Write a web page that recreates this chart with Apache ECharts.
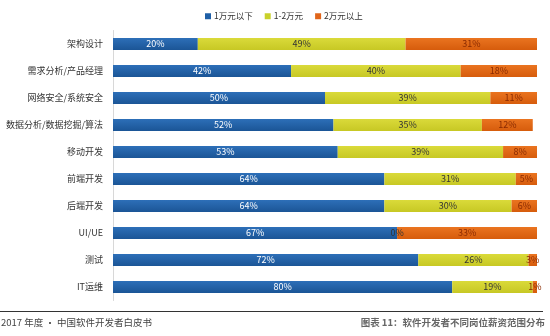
<!DOCTYPE html>
<html><head><meta charset="utf-8">
<script src="https://cdn.jsdelivr.net/npm/echarts@6/dist/echarts.min.js"></script>
<style>html,body{margin:0;padding:0;background:#fff}#c{width:550px;height:336px}</style>
</head><body><div id="c"></div>
<script>
var categories = ['架构设计','需求分析/产品经理','网络安全/系统安全','数据分析/数据挖掘/算法','移动开发','前端开发','后端开发','UI/UE','测试','IT运维'];
var seriesNames = ['1万元以下','1-2万元','2万元以上'];
var below1 = [20,42,50,52,53,64,64,67,72,80];
var between12 = [49,40,39,35,39,31,30,0,26,19];
var above2 = [31,18,11,12,8,5,6,33,3,1];

function grad(a,b){return new echarts.graphic.LinearGradient(0,0,0,1,[{offset:0,color:a},{offset:1,color:b}]);}
var fills = [grad('#2d6fb8','#1b5596'), grad('#dada3a','#c7c824'), grad('#ea7420','#d65c0c')];
var labelColors = ['#ffffff','#333333','#8a2a00'];
var data = [below1,between12,above2];
var font = '"Microsoft YaHei","Noto Sans CJK SC",sans-serif';

var chart = echarts.init(document.getElementById('c'));
chart.setOption({
  animation:false,
  legend:{top:7,left:200,itemWidth:6,itemHeight:6,itemGap:12,icon:'rect',
    textStyle:{fontSize:8.5,color:'#333',fontFamily:font,padding:[0,0,0,-2]},
    data:seriesNames.map(function(n,i){return {name:n,itemStyle:{color:['#1f5fa6','#c9d12a','#e0651a'][i]}};})},
  grid:{left:113,right:13,top:30.5,bottom:35.5},
  xAxis:{type:'value',min:0,max:100,show:false},
  yAxis:{type:'category',data:categories,inverse:true,
    axisLine:{lineStyle:{color:'#d8d8d8'}},axisTick:{show:false},
    axisLabel:{fontSize:9,color:'#333',margin:10,fontFamily:font}},
  series:seriesNames.map(function(n,i){return {
    name:n,type:'bar',stack:'s',barWidth:12,data:data[i],
    itemStyle:{color:fills[i]},
    label:{show:true,position:'inside',formatter:'{c}%',fontSize:9,color:labelColors[i],fontFamily:font}
  };}),
  graphic:[
    {type:'rect',shape:{x:0,y:311,width:543,height:1},style:{fill:'#333'}},
    {type:'text',left:1,top:318,style:{text:'2017 年度 · 中国软件开发者白皮书',fontSize:9.5,fill:'#444',fontFamily:font}},
    {type:'text',right:5,top:318,style:{text:'图表 11：软件开发者不同岗位薪资范围分布',fontSize:9.5,fontWeight:'bold',fill:'#666',fontFamily:font}}
  ]
});
</script></body></html>
